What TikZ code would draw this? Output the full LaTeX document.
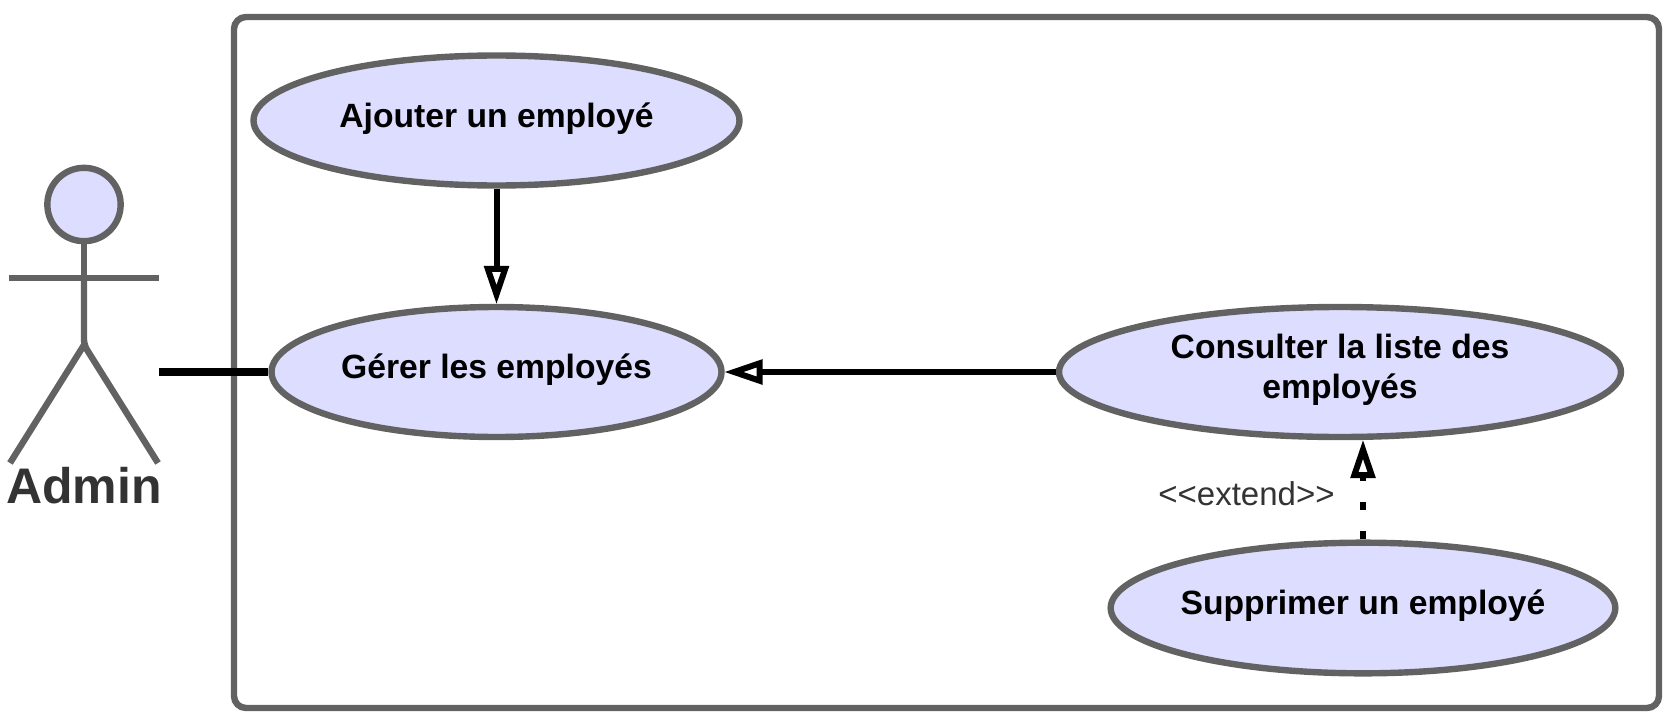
\documentclass[tikz,border=0pt]{standalone}
\usepackage{fontspec}
\setmainfont{Liberation Sans}
\usepackage{xcolor}
\usetikzlibrary{arrows.meta}
\usetikzlibrary{shapes.geometric}
\definecolor{usecasefill}{HTML}{DDDDFF}
\definecolor{usecaseline}{HTML}{626262}
\definecolor{labeltext}{HTML}{333333}
\tikzset{
  usecase/.style={ellipse,draw=usecaseline,fill=usecasefill,line width=4.8pt,inner xsep=-25pt,inner ysep=0pt,text depth=8.5pt,
    align=center,font=\fontsize{25.25}{30.5}\selectfont\bfseries,text=black},
  actorline/.style={draw=usecaseline,line width=4.8pt},
  extendsarrow/.style={draw=black,line width=4.5pt,-{Triangle[open,fill=white,length=29pt,width=18pt]},shorten >=-0.5pt}
}
\begin{document}
\begin{tikzpicture}[x=0.75pt, y=-0.75pt]

      \useasboundingbox (0,0) rectangle (1670,724);

      \draw[actorline,rounded corners=9pt] (234,17) rectangle (1659,708);

      \node[circle,actorline,fill=usecasefill,minimum size=55pt,inner sep=0pt] (head) at (84,204.5) {};
      \coordinate (neck) at (84,278);
      \coordinate (hip) at (84,345);
      \coordinate (armleft) at (9,278);
      \coordinate (armright) at (159,278);
      \coordinate (footleft) at (10,463);
      \coordinate (footright) at (158,463);
      \coordinate (hand) at (159,372);
      \draw[actorline] (head) -- (neck);
      \draw[actorline,rounded corners=4pt] (neck) -- (hip) -- (footright);
      \draw[actorline] (armleft) -- (armright);
      \draw[actorline] (footleft) -- (hip);
      \node[font=\fontsize{37.5}{40}\selectfont\bfseries,text=labeltext,anchor=base,inner sep=0pt] (admin) at (84,503) {Admin};

      \node[usecase,minimum width=364.5pt,minimum height=97.5pt] (ajouter) at (496.5,120.5) {Ajouter un employé};
      \node[usecase,minimum width=337.5pt,minimum height=97.5pt] (gerer) at (496.5,372) {Gérer les employés};
      \node[usecase,minimum width=421.5pt,minimum height=97.5pt] (consulter) at (1340,372) {Consulter la liste des\\employés};
      \node[usecase,minimum width=378.5pt,minimum height=98pt] (supprimer) at (1363,608) {Supprimer un employé};

      \draw[line width=6pt] (hand) -- (gerer);
      \draw[extendsarrow] (ajouter) -- (gerer);
      \draw[extendsarrow] (consulter) -- (gerer);
      \draw[extendsarrow,dash pattern=on 6pt off 16pt] (supprimer) -- (supprimer |- consulter.south);

      \node[font=\fontsize{24.75}{30}\selectfont,text=labeltext,anchor=base,inner sep=0pt] (extend) at (1246.5,505) {<{}<extend>{}>};
    \end{tikzpicture}
\end{document}
